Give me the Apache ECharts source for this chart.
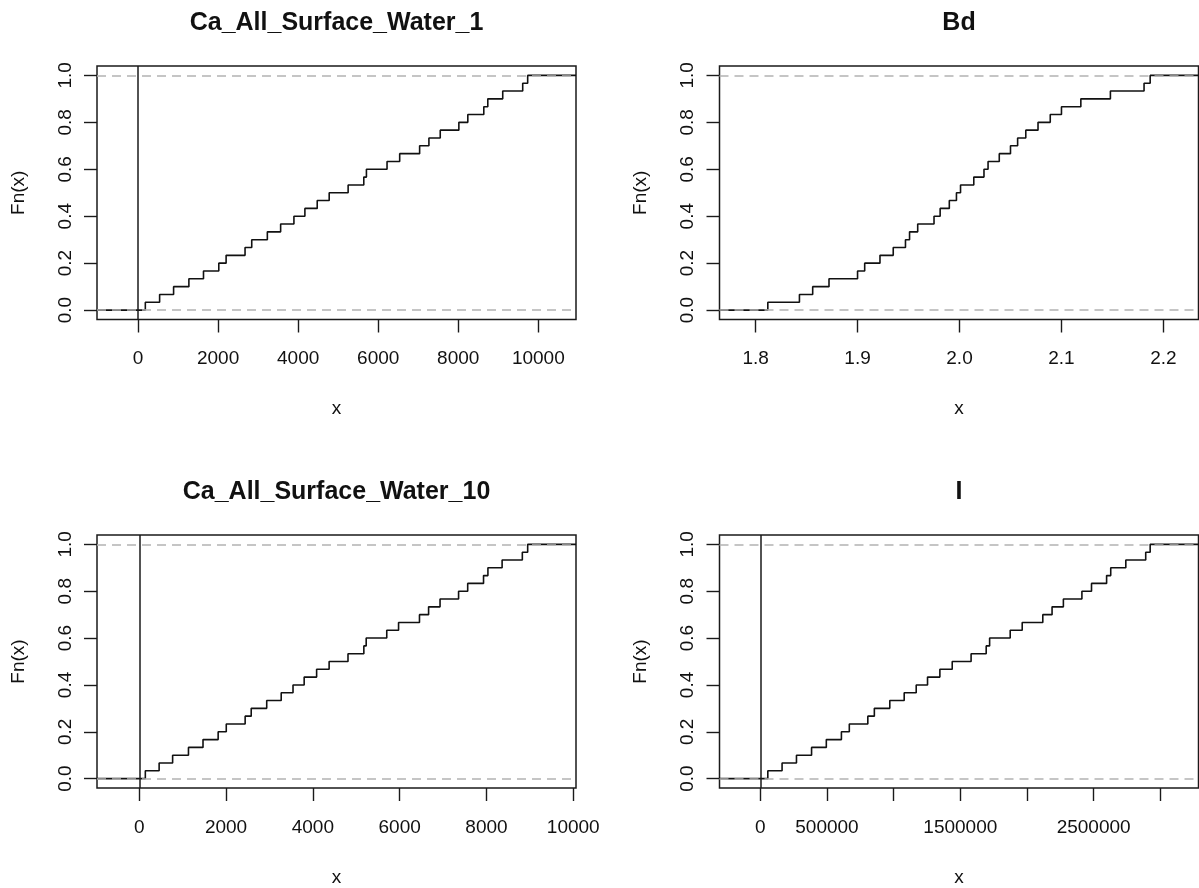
<!DOCTYPE html>
<html><head><meta charset="utf-8">
<script src="https://cdn.jsdelivr.net/npm/echarts@6/dist/echarts.min.js"></script>
<style>html,body{margin:0;padding:0;background:#fff}#c{width:1199px;height:888px}</style>
</head><body><div id="c"></div>
<script>
const titles = ['Ca_All_Surface_Water_1', 'Bd', 'Ca_All_Surface_Water_10', 'I'];

const xCa1 = [183, 540, 889, 1271, 1636, 2018, 2201, 2674, 2841, 3231, 3563, 3895, 4169, 4477, 4776,
  5249, 5640, 5706, 6221, 6537, 7035, 7267, 7550, 8015, 8239, 8638, 8738, 9111, 9610, 9734];
const xBd = [1.812, 1.843, 1.856, 1.872, 1.900, 1.907, 1.922, 1.935, 1.947, 1.951, 1.959, 1.975, 1.981, 1.990, 1.997,
  2.001, 2.014, 2.024, 2.028, 2.039, 2.050, 2.057, 2.065, 2.077, 2.089, 2.100, 2.119, 2.148, 2.181, 2.187];
const xCa10 = [140, 458, 769, 1134, 1469, 1818, 2005, 2440, 2580, 2937, 3271, 3543, 3800, 4087, 4375,
  4810, 5175, 5229, 5703, 5975, 6457, 6667, 6931, 7358, 7568, 7933, 8034, 8361, 8827, 8950];
const xI = [56600, 163400, 271400, 384600, 495200, 608400, 667600, 806500, 855400, 971200, 1079200, 1169300, 1254200, 1346800, 1439400,
  1580900, 1694100, 1719800, 1874200, 1964200, 2118600, 2188100, 2273000, 2411900, 2483900, 2597100, 2628000, 2741200, 2890400, 2923800];

const fnLevels = [1/30, 2/30, 3/30, 4/30, 5/30, 6/30, 7/30, 8/30, 9/30, 10/30, 11/30, 12/30, 13/30, 14/30, 15/30,
  16/30, 17/30, 18/30, 19/30, 20/30, 21/30, 22/30, 23/30, 24/30, 25/30, 26/30, 27/30, 28/30, 29/30, 30/30];

const yTicks = [0, 0.2, 0.4, 0.6, 0.8, 1.0];
const xTicksCa1 = [0, 2000, 4000, 6000, 8000, 10000];
const xTicksBd = [1.8, 1.9, 2.0, 2.1, 2.2];
const xTicksCa10 = [0, 2000, 4000, 6000, 8000, 10000];
const xTicksI = [0, 500000, 1000000, 1500000, 2000000, 2500000, 3000000];
const xLabelsI = [0, 500000, 1500000, 2500000];

const panels = [
  {xs: xCa1, ticks: xTicksCa1, labels: xTicksCa1, dec: 0},
  {xs: xBd, ticks: xTicksBd, labels: xTicksBd, dec: 1},
  {xs: xCa10, ticks: xTicksCa10, labels: xTicksCa10, dec: 0},
  {xs: xI, ticks: xTicksI, labels: xLabelsI, dec: 0}
];

// R plot.stepfun x-limits, then 4% axis extension
function xlim(xs) {
  const lo = Math.min(...xs), hi = Math.max(...xs);
  const diffs = xs.slice(1).map((v, i) => v - xs[i]).sort((a, b) => a - b);
  const med = diffs[Math.floor(diffs.length / 2)];
  const dr = Math.max(0.08 * (hi - lo), med);
  const a = lo - dr, b = hi + dr, e = 0.04 * (b - a);
  return [a - e, b + e];
}

const grids = [
  {left: 97, top: 66, width: 479, height: 253.5},
  {left: 719.5, top: 66, width: 479, height: 253.5},
  {left: 97, top: 535, width: 479, height: 253},
  {left: 719.5, top: 535, width: 479, height: 253}
];

const FONT = 'Liberation Sans, Arial, sans-serif';
const TXT = '#111';
const BOX = '#1a1a1a';

const option = {
  animation: false,
  backgroundColor: '#fff',
  title: grids.map((g, i) => ({
    text: titles[i],
    left: g.left + g.width / 2,
    top: g.top - 55,
    textAlign: 'center',
    padding: 0,
    textStyle: {fontFamily: FONT, fontSize: 25, fontWeight: 'bold', color: TXT}
  })),
  grid: grids.map(g => Object.assign({show: true, borderColor: BOX, borderWidth: 1.5, backgroundColor: 'transparent'}, g)),
  xAxis: panels.map((p, i) => {
    const lim = xlim(p.xs);
    return {
      type: 'value', gridIndex: i, min: lim[0], max: lim[1], position: 'bottom',
      splitLine: {show: false}, axisLine: {show: false, onZero: false},
      name: 'x', nameLocation: 'middle', nameGap: 80,
      nameTextStyle: {fontFamily: FONT, fontSize: 19, color: TXT},
      axisTick: {show: true, length: 13, customValues: p.ticks, lineStyle: {color: BOX, width: 1.4}},
      axisLabel: {show: true, margin: 30, customValues: p.labels, fontFamily: FONT, fontSize: 19, color: TXT,
        formatter: v => v.toFixed(p.dec)}
    };
  }),
  yAxis: panels.map((p, i) => ({
    type: 'value', gridIndex: i, min: -0.04, max: 1.04, position: 'left',
    splitLine: {show: false}, axisLine: {show: false, onZero: false},
    name: 'Fn(x)', nameLocation: 'middle', nameGap: 69, nameRotate: 90,
    nameTextStyle: {fontFamily: FONT, fontSize: 19, color: TXT},
    axisTick: {show: true, length: 13, customValues: yTicks, lineStyle: {color: BOX, width: 1.4}},
    axisLabel: {show: true, margin: 22, rotate: 90, customValues: yTicks, fontFamily: FONT, fontSize: 19, color: TXT,
      formatter: v => v.toFixed(1)}
  })),
  series: panels.map((p, i) => {
    const lim = xlim(p.xs);
    const data = [[lim[0], 0]].concat(p.xs.map((x, k) => [x, fnLevels[k]])).concat([[lim[1], 1]]);
    const ml = [
      {yAxis: 0, lineStyle: {color: '#b3b3b3', type: [9, 6], width: 1.5}},
      {yAxis: 1, lineStyle: {color: '#b3b3b3', type: [9, 6], width: 1.5}}
    ];
    if (lim[0] < 0 && lim[1] > 0) ml.push({xAxis: 0, lineStyle: {color: BOX, type: 'solid', width: 1.5}});
    return {
      type: 'line', xAxisIndex: i, yAxisIndex: i, step: 'end', data: data,
      showSymbol: false, symbol: 'none', silent: true,
      lineStyle: {color: '#111', width: 1.6},
      markLine: {silent: true, symbol: 'none', label: {show: false}, data: ml}
    };
  })
};

const chart = echarts.init(document.getElementById('c'), null, {renderer: 'canvas'});
chart.setOption(option);
</script>
</body></html>
